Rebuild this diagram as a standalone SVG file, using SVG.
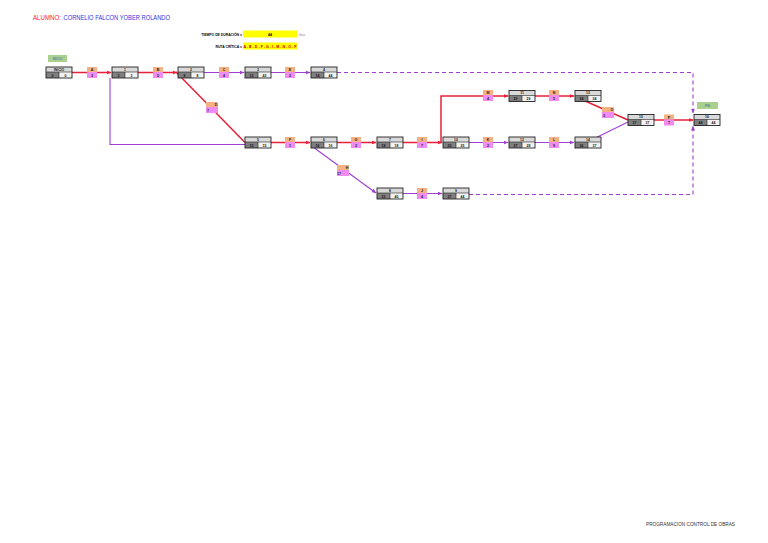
<svg xmlns="http://www.w3.org/2000/svg" xmlns:xlink="http://www.w3.org/1999/xlink" width="768" height="543" viewBox="0 0 768 543">
<style>
text{font-family:"Liberation Sans",Arial,sans-serif}
.nt{font-size:3.4px;font-weight:bold;text-anchor:middle;fill:#111}
.at{font-size:3.6px;font-weight:bold;text-anchor:middle;fill:#222}
.red{stroke:#e8203a;stroke-width:1.5;fill:none}
.pur{stroke:#a040d0;stroke-width:1.1;fill:none}
.dash{stroke:#a040d0;stroke-width:1.1;fill:none;stroke-dasharray:4 3}
.gr{fill:#a9d08e}
</style>
<defs>
<g id="node">
<rect x="0" y="0" width="26" height="5" fill="#d9d9d9"/>
<rect x="0" y="5" width="13" height="6" fill="#7f7f7f"/>
<rect x="13" y="5" width="13" height="6" fill="#f2f2f2"/>
<rect x="0" y="0" width="26" height="11" fill="none" stroke="#222" stroke-width="0.9"/>
<line x1="0" y1="5" x2="26" y2="5" stroke="#222" stroke-width="0.6"/>
<line x1="13" y1="5" x2="13" y2="11" stroke="#222" stroke-width="0.6"/>
</g>
<g id="act">
<rect x="0" y="0" width="10" height="5" fill="#f4b183"/>
<rect x="0" y="5" width="10" height="6" fill="#f08cf0"/>
</g>
<g id="actd">
<rect x="0" y="0" width="12" height="5" fill="#f4b183"/>
<rect x="0" y="5" width="12" height="6" fill="#f08cf0"/>
</g>
<marker id="ar" markerWidth="5" markerHeight="5" refX="4.5" refY="2.5" orient="auto" markerUnits="userSpaceOnUse"><path d="M0 0.5 L5 2.5 L0 4.5z" fill="#e8203a"/></marker>
<marker id="ap" markerWidth="5" markerHeight="5" refX="4.5" refY="2.5" orient="auto" markerUnits="userSpaceOnUse"><path d="M0 0.5 L5 2.5 L0 4.5z" fill="#a040d0"/></marker>
</defs>

<text x="33" y="20" font-size="7" fill="#ff2020" textLength="28" lengthAdjust="spacingAndGlyphs">ALUMNO:</text>
<text x="63.5" y="20" font-size="7" fill="#3333dd" textLength="106.5" lengthAdjust="spacingAndGlyphs">CORNELIO FALCON YOBER ROLANDO</text>

<text x="242" y="35.5" font-size="3.4" font-weight="bold" text-anchor="end">TIEMPO DE DURACIÓN =</text>
<rect x="243" y="30.5" width="54" height="7" fill="#ffff00"/>
<text x="270" y="35.5" font-size="3.6" font-weight="bold" text-anchor="middle">44</text>
<text x="299" y="35.5" font-size="3.2" fill="#888">días</text>
<text x="242" y="47.5" font-size="3.4" font-weight="bold" text-anchor="end">RUTA CRÍTICA =</text>
<rect x="243" y="42.5" width="54" height="7" fill="#ffff00"/>
<text x="270" y="47.5" font-size="3.6" font-weight="bold" text-anchor="middle" fill="#c00000">A - B - D - F - G - I - M - N - O - P</text>

<rect class="gr" x="48" y="55" width="19" height="7"/>
<text x="57.5" y="59.8" font-size="3.2" text-anchor="middle" fill="#3355aa">INICIO</text>
<rect class="gr" x="697" y="102" width="21" height="7"/>
<text x="707.5" y="106.8" font-size="3.2" text-anchor="middle" fill="#3355aa">FIN</text>

<g id="connectors">
<path class="red" d="M72 72.5 H111" marker-end="url(#ar)"/>
<path class="red" d="M138 72.5 H177" marker-end="url(#ar)"/>
<path class="red" d="M176 72 L245 142.5"/>
<path class="red" d="M271 142.5 H310" marker-end="url(#ar)"/>
<path class="red" d="M337 142.5 H376" marker-end="url(#ar)"/>
<path class="red" d="M403 142.5 H442" marker-end="url(#ar)"/>
<path class="red" d="M441 142.5 V96 H508" marker-end="url(#ar)"/>
<path class="red" d="M535 96 H574" marker-end="url(#ar)"/>
<path class="red" d="M575 96.5 L628 120"/>
<path class="red" d="M654 120 H693" marker-end="url(#ar)"/>
<path class="pur" d="M204 72.5 H244" marker-end="url(#ap)"/>
<path class="pur" d="M271 72.5 H310" marker-end="url(#ap)"/>
<path class="pur" d="M110 78 V144.5 H245"/>
<path class="pur" d="M313 147 L376 193" marker-end="url(#ap)"/>
<path class="pur" d="M403 193.5 H442" marker-end="url(#ap)"/>
<path class="pur" d="M469 142.5 H508" marker-end="url(#ap)"/>
<path class="pur" d="M535 142.5 H574" marker-end="url(#ap)"/>
<path class="pur" d="M575 148 L628 122"/>
<path class="dash" d="M337 72.5 H693 V113" marker-end="url(#ap)"/>
<path class="dash" d="M469 194.5 H693 V126" marker-end="url(#ap)"/>
</g>

<g id="acts">
<g id="aA" transform="translate(87,67)"><use xlink:href="#act"/><text class="at" x="5" y="4">A</text><text class="at" x="5" y="9.6">3</text></g>
<g id="aB" transform="translate(153,67)"><use xlink:href="#act"/><text class="at" x="5" y="4">B</text><text class="at" x="5" y="9.6">5</text></g>
<g id="aC" transform="translate(219,67)"><use xlink:href="#act"/><text class="at" x="5" y="4">C</text><text class="at" x="5" y="9.6">4</text></g>
<g id="aE" transform="translate(285,67)"><use xlink:href="#act"/><text class="at" x="5" y="4">E</text><text class="at" x="5" y="9.6">2</text></g>
<g id="aD" transform="translate(206,102)"><use xlink:href="#actd"/><text class="at" x="10" y="4">D</text><text class="at" x="2" y="10">7</text></g>
<g id="aF" transform="translate(285,137)"><use xlink:href="#act"/><text class="at" x="5" y="4">F</text><text class="at" x="5" y="9.6">1</text></g>
<g id="aG" transform="translate(351,137)"><use xlink:href="#act"/><text class="at" x="5" y="4">G</text><text class="at" x="5" y="9.6">2</text></g>
<g id="aI" transform="translate(417,137)"><use xlink:href="#act"/><text class="at" x="5" y="4">I</text><text class="at" x="5" y="9.6">7</text></g>
<g id="aM" transform="translate(483,90)"><use xlink:href="#act"/><text class="at" x="5" y="4">M</text><text class="at" x="5" y="9.6">4</text></g>
<g id="aN" transform="translate(549,90)"><use xlink:href="#act"/><text class="at" x="5" y="4">N</text><text class="at" x="5" y="9.6">5</text></g>
<g id="aK" transform="translate(483,137)"><use xlink:href="#act"/><text class="at" x="5" y="4">K</text><text class="at" x="5" y="9.6">2</text></g>
<g id="aL" transform="translate(549,137)"><use xlink:href="#act"/><text class="at" x="5" y="4">L</text><text class="at" x="5" y="9.6">9</text></g>
<g id="aO" transform="translate(602,107)"><use xlink:href="#actd"/><text class="at" x="10" y="4">O</text><text class="at" x="2" y="10">3</text></g>
<g id="aP" transform="translate(664,114.5)"><use xlink:href="#act"/><text class="at" x="5" y="4">P</text><text class="at" x="5" y="9.6">7</text></g>
<g id="aH" transform="translate(337,165)"><use xlink:href="#actd"/><text class="at" x="10" y="4">H</text><text class="at" x="2" y="10">17</text></g>
<g id="aJ" transform="translate(417,188)"><use xlink:href="#act"/><text class="at" x="5" y="4">J</text><text class="at" x="5" y="9.6">4</text></g>
</g>

<g id="n0" transform="translate(46,67)"><use xlink:href="#node"/><text class="nt" x="13" y="3.8">INICIO</text><text class="nt" x="6.5" y="9.6">0</text><text class="nt" x="19.5" y="9.6">0</text></g>
<g id="n1" transform="translate(112,67)"><use xlink:href="#node"/><text class="nt" x="13" y="3.8">1</text><text class="nt" x="6.5" y="9.6">3</text><text class="nt" x="19.5" y="9.6">3</text></g>
<g id="n2" transform="translate(178,67)"><use xlink:href="#node"/><text class="nt" x="13" y="3.8">2</text><text class="nt" x="6.5" y="9.6">8</text><text class="nt" x="19.5" y="9.6">8</text></g>
<g id="n3" transform="translate(245,67)"><use xlink:href="#node"/><text class="nt" x="13" y="3.8">3</text><text class="nt" x="6.5" y="9.6">12</text><text class="nt" x="19.5" y="9.6">42</text></g>
<g id="n4" transform="translate(311,67)"><use xlink:href="#node"/><text class="nt" x="13" y="3.8">4</text><text class="nt" x="6.5" y="9.6">14</text><text class="nt" x="19.5" y="9.6">44</text></g>
<g id="n5" transform="translate(245,137)"><use xlink:href="#node"/><text class="nt" x="13" y="3.8">5</text><text class="nt" x="6.5" y="9.6">15</text><text class="nt" x="19.5" y="9.6">15</text></g>
<g id="n6" transform="translate(311,137)"><use xlink:href="#node"/><text class="nt" x="13" y="3.8">6</text><text class="nt" x="6.5" y="9.6">16</text><text class="nt" x="19.5" y="9.6">16</text></g>
<g id="n7" transform="translate(377,137)"><use xlink:href="#node"/><text class="nt" x="13" y="3.8">7</text><text class="nt" x="6.5" y="9.6">18</text><text class="nt" x="19.5" y="9.6">18</text></g>
<g id="n8" transform="translate(377,188)"><use xlink:href="#node"/><text class="nt" x="13" y="3.8">8</text><text class="nt" x="6.5" y="9.6">33</text><text class="nt" x="19.5" y="9.6">40</text></g>
<g id="n9" transform="translate(443,188)"><use xlink:href="#node"/><text class="nt" x="13" y="3.8">9</text><text class="nt" x="6.5" y="9.6">37</text><text class="nt" x="19.5" y="9.6">44</text></g>
<g id="n10" transform="translate(443,137)"><use xlink:href="#node"/><text class="nt" x="13" y="3.8">10</text><text class="nt" x="6.5" y="9.6">25</text><text class="nt" x="19.5" y="9.6">25</text></g>
<g id="n11" transform="translate(509,90.5)"><use xlink:href="#node"/><text class="nt" x="13" y="3.8">11</text><text class="nt" x="6.5" y="9.6">29</text><text class="nt" x="19.5" y="9.6">29</text></g>
<g id="n12" transform="translate(509,137)"><use xlink:href="#node"/><text class="nt" x="13" y="3.8">12</text><text class="nt" x="6.5" y="9.6">27</text><text class="nt" x="19.5" y="9.6">28</text></g>
<g id="n13" transform="translate(575,90.5)"><use xlink:href="#node"/><text class="nt" x="13" y="3.8">13</text><text class="nt" x="6.5" y="9.6">34</text><text class="nt" x="19.5" y="9.6">34</text></g>
<g id="n14" transform="translate(575,137)"><use xlink:href="#node"/><text class="nt" x="13" y="3.8">14</text><text class="nt" x="6.5" y="9.6">36</text><text class="nt" x="19.5" y="9.6">37</text></g>
<g id="n15" transform="translate(628,114.5)"><use xlink:href="#node"/><text class="nt" x="13" y="3.8">15</text><text class="nt" x="6.5" y="9.6">37</text><text class="nt" x="19.5" y="9.6">37</text></g>
<g id="n16" transform="translate(694,114.5)"><use xlink:href="#node"/><text class="nt" x="13" y="3.8">16</text><text class="nt" x="6.5" y="9.6">44</text><text class="nt" x="19.5" y="9.6">44</text></g>

<text x="646" y="525.5" font-size="5" fill="#333" textLength="89" lengthAdjust="spacingAndGlyphs">PROGRAMACION  CONTROL DE OBRAS</text>
</svg>
